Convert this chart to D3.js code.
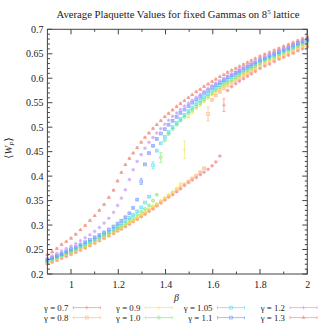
<!DOCTYPE html>
<html>
<head>
<meta charset="utf-8">
<script src="https://cdn.jsdelivr.net/npm/d3@7"></script>
<style>
  body { margin: 0; background: #fff; }
  svg { display: block; }
  text { font-family: "Liberation Serif", "DejaVu Serif", serif; fill: #222; }
</style>
</head>
<body>
<div id="chart"></div>
<script>
// ---------- data ----------
const betas = [0.90,0.92,0.94,0.96,0.98,1.00,1.02,1.04,1.06,1.08,1.10,1.12,1.14,1.16,1.18,
  1.197,1.213,1.230,1.247,1.263,1.280, 1.297,1.313,1.330,1.347,1.363,1.380,
  1.397,1.413,1.430,1.447,1.463,1.480, 1.497,1.513,1.530,1.547,1.563,1.580,
  1.597,1.613,1.630,1.647,1.663,1.680, 1.697,1.713,1.730,1.747,1.763,1.780,
  1.80,1.82,1.84,1.86,1.88,1.90,1.92,1.94,1.96,1.98,2.00];

const g07 = [0.221,0.224,0.228,0.232,0.236,0.240,0.244,0.249,0.253,0.258,0.263,0.268,0.273,0.278,0.283,
  0.288,0.292,0.297,0.302,0.307,0.312, 0.317,0.322,0.328,0.333,0.339,0.345,
  0.351,0.357,0.362,0.368,0.374,0.381, 0.387,0.392,0.397,0.403,0.408,0.414,
  0.421,0.429,0.441,0.545,0.575,0.583, 0.589,0.594,0.599,0.604,0.609,0.614,
  0.620,0.625,0.629,0.634,0.639,0.643,0.647,0.651,0.656,0.660,0.664];

const g08 = [0.222,0.226,0.230,0.234,0.238,0.242,0.246,0.250,0.255,0.259,0.264,0.269,0.274,0.279,0.284,
  0.289,0.293,0.298,0.303,0.308,0.313, 0.319,0.324,0.330,0.336,0.341,0.347,
  0.353,0.359,0.365,0.371,0.377,0.383, 0.389,0.395,0.401,0.408,0.416,0.527,
  0.556,0.565,0.572,0.579,0.585,0.591, 0.596,0.600,0.605,0.610,0.614,0.619,
  0.625,0.629,0.634,0.638,0.643,0.647,0.651,0.655,0.660,0.664,0.668];

const g09 = [0.224,0.228,0.232,0.236,0.240,0.244,0.248,0.252,0.257,0.261,0.266,0.271,0.276,0.281,0.286,
  0.291,0.295,0.300,0.305,0.310,0.316, 0.321,0.327,0.333,0.339,0.344,0.350,
  0.356,0.362,0.368,0.375,0.384,0.454, 0.520,0.530,0.538,0.545,0.552,0.559,
  0.566,0.572,0.578,0.584,0.589,0.594, 0.599,0.604,0.609,0.613,0.618,0.622,
  0.628,0.633,0.637,0.641,0.646,0.650,0.654,0.659,0.663,0.667,0.672];

const g10 = [0.226,0.230,0.234,0.238,0.242,0.246,0.250,0.255,0.259,0.264,0.269,0.274,0.279,0.284,0.289,
  0.294,0.299,0.304,0.310,0.315,0.321, 0.327,0.333,0.340,0.350,0.362,0.438,
  0.473,0.486,0.496,0.505,0.513,0.521, 0.528,0.535,0.542,0.549,0.556,0.563,
  0.569,0.575,0.581,0.587,0.592,0.597, 0.602,0.607,0.612,0.616,0.621,0.625,
  0.631,0.636,0.640,0.644,0.649,0.653,0.657,0.661,0.666,0.670,0.675];

const g105 = [0.227,0.231,0.235,0.239,0.244,0.248,0.252,0.257,0.262,0.266,0.271,0.276,0.281,0.286,0.292,
  0.297,0.303,0.309,0.315,0.321,0.328, 0.336,0.346,0.358,0.422,0.452,0.467,
  0.480,0.490,0.500,0.509,0.517,0.525, 0.533,0.540,0.547,0.554,0.561,0.568,
  0.575,0.580,0.586,0.592,0.597,0.602, 0.607,0.611,0.616,0.620,0.624,0.629,
  0.634,0.639,0.643,0.647,0.651,0.656,0.660,0.664,0.669,0.673,0.677];

const g11 = [0.229,0.233,0.237,0.241,0.246,0.251,0.255,0.260,0.265,0.270,0.275,0.280,0.285,0.291,0.297,
  0.303,0.309,0.316,0.324,0.335,0.352, 0.389,0.424,0.447,0.462,0.476,0.487,
  0.496,0.505,0.513,0.521,0.529,0.536, 0.543,0.550,0.556,0.562,0.569,0.575,
  0.581,0.586,0.591,0.596,0.602,0.606, 0.611,0.615,0.620,0.624,0.628,0.632,
  0.637,0.641,0.646,0.650,0.654,0.658,0.662,0.667,0.671,0.675,0.679];

const g12 = [0.232,0.237,0.242,0.247,0.252,0.257,0.262,0.268,0.274,0.280,0.287,0.295,0.304,0.314,0.326,
  0.340,0.355,0.372,0.393,0.413,0.430, 0.444,0.457,0.469,0.479,0.488,0.497,
  0.506,0.514,0.522,0.529,0.536,0.543, 0.549,0.555,0.561,0.567,0.573,0.579,
  0.585,0.590,0.595,0.600,0.605,0.609, 0.613,0.618,0.622,0.626,0.630,0.634,
  0.640,0.644,0.648,0.652,0.657,0.661,0.665,0.669,0.674,0.678,0.682];

const g13 = [0.239,0.245,0.252,0.260,0.266,0.273,0.281,0.290,0.299,0.309,0.319,0.330,0.342,0.356,0.371,
  0.390,0.407,0.423,0.436,0.447,0.458, 0.469,0.479,0.488,0.497,0.505,0.513,
  0.521,0.528,0.535,0.542,0.548,0.554, 0.560,0.566,0.572,0.577,0.583,0.588,
  0.593,0.598,0.603,0.607,0.612,0.616, 0.620,0.624,0.628,0.632,0.636,0.640,
  0.645,0.649,0.653,0.657,0.661,0.665,0.669,0.673,0.677,0.681,0.685];

const gammas = ["0.7", "0.8", "0.9", "1.0", "1.05", "1.1", "1.2", "1.3"];
const typicalErr = 0.0015;
// points near the jump with visible error bars: [gamma, beta, error]
const bigErrors = [["1.1", 1.297, 0.006], ["1.05", 1.347, 0.007], ["1.0", 1.380, 0.010],
                   ["0.9", 1.480, 0.018], ["0.8", 1.580, 0.014], ["0.7", 1.647, 0.013]];

const xTicks = [1, 1.2, 1.4, 1.6, 1.8, 2];
const xMinor = [1.1, 1.3, 1.5, 1.7, 1.9];
const yTicks = [0.2, 0.25, 0.3, 0.35, 0.4, 0.45, 0.5, 0.55, 0.6, 0.65, 0.7];
const yMinor = d3.range(21, 70).map(d => d / 100);

// ---------- styling per series ----------
const series = [
  { g: "0.7",  v: g07,  color: "#f07a78", shape: "plus" },
  { g: "0.8",  v: g08,  color: "#ffb070", shape: "square" },
  { g: "0.9",  v: g09,  color: "#f4e44c", shape: "plus" },
  { g: "1.0",  v: g10,  color: "#7ee466", shape: "circle" },
  { g: "1.05", v: g105, color: "#4cd8f4", shape: "square" },
  { g: "1.1",  v: g11,  color: "#6a92f6", shape: "square" },
  { g: "1.2",  v: g12,  color: "#c890f6", shape: "plus" },
  { g: "1.3",  v: g13,  color: "#f0826c", shape: "triangle" }
];

const W = 325, H = 325;
const svg = d3.select("#chart").append("svg").attr("width", W).attr("height", H);

const x = d3.scaleLinear().domain([0.9, 2]).range([47.4, 307.3]);
const y = d3.scaleLinear().domain([0.2, 0.7]).range([274, 29.3]);

// title
const title = svg.append("text").attr("x", 178).attr("y", 17.5)
  .attr("text-anchor", "middle").style("font-size", "10.7px");
title.append("tspan").text("Average Plaquette Values for fixed Gammas on 8");
title.append("tspan").attr("dy", -4).style("font-size", "7px").text("5");
title.append("tspan").attr("dy", 4).text(" lattice");

// ---------- data points ----------
function drawMarker(g, shape, color) {
  if (shape === "plus") {
    g.append("path").attr("d", "M-1.8,0H1.8M0,-1.8V1.8").attr("stroke", color).attr("fill", "none");
  } else if (shape === "square") {
    g.append("rect").attr("x", -1.4).attr("y", -1.4).attr("width", 2.8).attr("height", 2.8)
      .attr("fill", "none").attr("stroke", color);
  } else if (shape === "circle") {
    g.append("circle").attr("r", 1.5).attr("fill", "none").attr("stroke", color);
  } else {
    g.append("path").attr("d", d3.symbol(d3.symbolTriangle, 7)).attr("fill", color);
  }
}

const plot = svg.append("g");
series.forEach(s => {
  const pts = betas.map((b, i) => ({ b, v: s.v[i] })).filter(d => d.v != null);
  pts.forEach(d => {
    const big = bigErrors.find(e => e[0] === s.g && Math.abs(e[1] - d.b) < 1e-6);
    const err = big ? big[2] : typicalErr;
    const px = x(d.b), py = y(d.v);
    const g = plot.append("g").attr("transform", `translate(${px},${py})`)
      .attr("stroke-width", 0.8).attr("opacity", 0.75);
    const top = y(d.v + err) - py, bot = y(d.v - err) - py;
    g.append("path")
      .attr("d", `M0,${top}V${bot}M-1.5,${top}H1.5M-1.5,${bot}H1.5`)
      .attr("stroke", s.color).attr("fill", "none");
    drawMarker(g, s.shape, s.color);
  });
});

// ---------- axes / frame ----------
const frameColor = "#444";
function tickLines(values, isX, len) {
  values.forEach(v => {
    if (isX) {
      const px = x(v);
      svg.append("line").attr("x1", px).attr("x2", px).attr("y1", 274).attr("y2", 274 - len).attr("stroke", frameColor);
      svg.append("line").attr("x1", px).attr("x2", px).attr("y1", 29.3).attr("y2", 29.3 + len).attr("stroke", frameColor);
    } else {
      const py = y(v);
      svg.append("line").attr("x1", 47.4).attr("x2", 47.4 + len).attr("y1", py).attr("y2", py).attr("stroke", frameColor);
      svg.append("line").attr("x1", 307.3).attr("x2", 307.3 - len).attr("y1", py).attr("y2", py).attr("stroke", frameColor);
    }
  });
}
tickLines(xTicks, true, 5);
tickLines(xMinor, true, 2.5);
tickLines(yTicks, false, 5);
tickLines(yMinor.filter(v => Math.round(v * 100) % 5 !== 0), false, 2.5);

const xAxis = svg.append("g").attr("transform", "translate(0,274)")
  .call(d3.axisBottom(x).tickValues(xTicks).tickFormat(d3.format("~g")).tickSize(0).tickPadding(7));
const yAxis = svg.append("g").attr("transform", "translate(47.4,0)")
  .call(d3.axisLeft(y).tickValues(yTicks).tickFormat(d3.format("~g")).tickSize(0).tickPadding(4));
[xAxis, yAxis].forEach(a => {
  a.select(".domain").remove();
  a.selectAll("text").style("font-size", "10px").style("font-family", "'Liberation Serif', serif").attr("fill", "#222");
});

svg.append("rect").attr("x", 47.4).attr("y", 29.3).attr("width", 307.3 - 47.4).attr("height", 274 - 29.3)
  .attr("fill", "none").attr("stroke", frameColor).attr("stroke-width", 1);

// axis labels
svg.append("text").attr("x", 176.5).attr("y", 301).attr("text-anchor", "middle")
  .style("font-style", "italic").style("font-size", "10px").text("β");

const yl = svg.append("text").attr("transform", "translate(12,148) rotate(-90)")
  .attr("text-anchor", "middle").style("font-size", "10.5px");
yl.append("tspan").text("⟨");
yl.append("tspan").style("font-style", "italic").text("W");
yl.append("tspan").attr("dy", 2).style("font-size", "7px").style("font-style", "italic").text("P");
yl.append("tspan").attr("dy", -2).text("⟩");

// ---------- legend ----------
const colRight = [68.3, 140.3, 212.5, 285];
const rowY = [307.6, 317.6];
series.forEach((s, i) => {
  const col = Math.floor(i / 2), row = i % 2;
  const lx = colRight[col], ly = rowY[row];
  svg.append("text").attr("x", lx).attr("y", ly + 3).attr("text-anchor", "end")
    .style("font-size", "8.8px").text(`γ = ${s.g}`);
  const g = svg.append("g").attr("stroke-width", 0.8).attr("opacity", 0.75);
  g.append("path")
    .attr("d", `M${lx + 5},${ly}H${lx + 32}M${lx + 5},${ly - 1.5}V${ly + 1.5}M${lx + 32},${ly - 1.5}V${ly + 1.5}`)
    .attr("stroke", s.color).attr("fill", "none");
  const m = g.append("g").attr("transform", `translate(${lx + 18.5},${ly})`);
  drawMarker(m, s.shape, s.color);
});
</script>
</body>
</html>
